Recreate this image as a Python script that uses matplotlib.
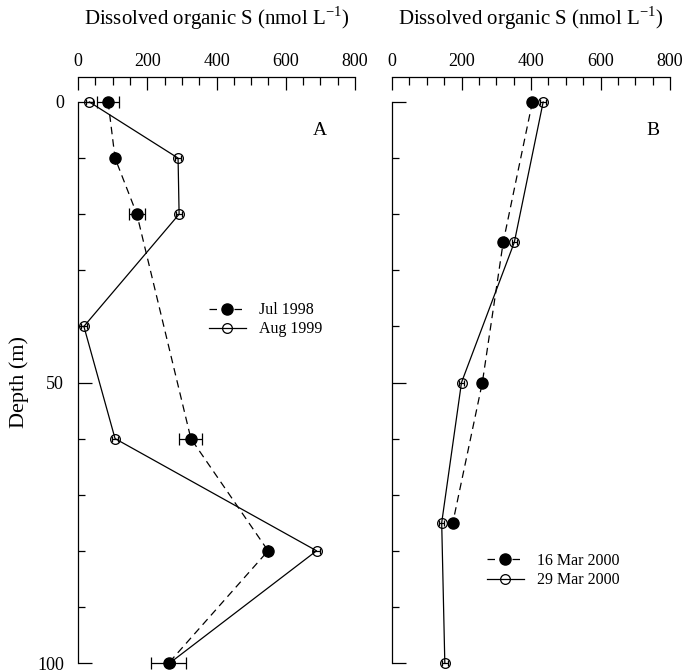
import matplotlib
matplotlib.use("Agg")
import matplotlib.pyplot as plt
from matplotlib.lines import Line2D
from matplotlib.ticker import MultipleLocator

plt.rcParams["font.family"] = ["Liberation Serif", "DejaVu Serif"]

# ---- Panel A: Jul 1998 / Aug 1999 profiles ----
depth_jul = [0, 10, 20, 60, 80, 100]
dos_jul = [87, 107, 170, 326, 549, 262]
err_jul = [32, 0, 24, 33, 0, 51]

depth_aug = [0, 10, 20, 40, 60, 80, 100]
dos_aug = [33, 289, 292, 17, 107, 689, 265]
err_aug = [10, 8, 8, 8, 8, 10, 8]

# ---- Panel B: March 2000 profiles ----
depth_mar16 = [0, 25, 50, 75]
dos_mar16 = [404, 320, 260, 175]

depth_mar29 = [0, 25, 50, 75, 100]
dos_mar29 = [435, 352, 200, 143, 152]
err_mar29 = [8, 8, 8, 8, 8]

W, H = 684, 672
fig = plt.figure(figsize=(W / 100, H / 100), dpi=100)
axA = fig.add_axes([78 / W, (H - 663) / H, 277 / W, 561 / H])
axB = fig.add_axes([392 / W, (H - 663) / H, 278 / W, 561 / H])

lw = 0.9
dash = (0, (6, 4))
filled = dict(color="black", ls=dash, lw=lw, marker="o", ms=8,
              mfc="black", mec="black")
hollow = dict(color="black", ls="-", lw=lw, marker="o", ms=7,
              mfc="none", mec="black", mew=lw)

for ax in (axA, axB):
    ax.set_xlim(0, 800)
    ax.set_ylim(100, 0)
    ax.spines["right"].set_visible(False)
    ax.spines["bottom"].set_visible(False)
    ax.spines["top"].set_position(("outward", 18))
    ax.spines["top"].set_linewidth(lw)
    ax.spines["left"].set_linewidth(lw)
    ax.xaxis.tick_top()
    ax.xaxis.set_label_position("top")
    ax.xaxis.set_major_locator(MultipleLocator(200))
    ax.xaxis.set_minor_locator(MultipleLocator(50))
    ax.yaxis.set_major_locator(MultipleLocator(50))
    ax.yaxis.set_minor_locator(MultipleLocator(10))
    ax.tick_params(axis="x", which="major", direction="in", length=9, width=lw,
                   labelsize=13, pad=5)
    ax.tick_params(axis="x", which="minor", direction="in", length=6, width=lw)
    ax.tick_params(axis="y", which="major", direction="in", length=10, width=lw,
                   labelsize=13, pad=10)
    ax.tick_params(axis="y", which="minor", direction="in", length=5, width=lw)
    ax.set_xlabel("Dissolved organic S (nmol L$^{\\mathregular{-1}}$)",
                  fontsize=15, labelpad=20)

axB.tick_params(axis="y", which="both", labelleft=False)
axA.set_ylabel("Depth (m)", fontsize=16, labelpad=6)

axA.errorbar(dos_jul, depth_jul, xerr=err_jul, ecolor="black", elinewidth=lw,
             capsize=4, capthick=lw, clip_on=False, **filled)
axA.errorbar(dos_aug, depth_aug, xerr=err_aug, ecolor="black", elinewidth=lw,
             capsize=2.5, capthick=lw, clip_on=False, **hollow)

axB.plot(dos_mar16, depth_mar16, clip_on=False, **filled)
axB.errorbar(dos_mar29, depth_mar29, xerr=err_mar29, ecolor="black", elinewidth=lw,
             capsize=2.5, capthick=lw, clip_on=False, **hollow)

leg_kw = dict(frameon=False, fontsize=11.5, handlelength=2.3, handletextpad=0.8,
              borderpad=0, borderaxespad=0, labelspacing=0.2, loc="upper left")
axA.legend([Line2D([], [], **filled), Line2D([], [], **hollow)],
           ["Jul 1998", "Aug 1999"], bbox_to_anchor=(0.473, 0.643), **leg_kw)
axB.legend([Line2D([], [], **filled), Line2D([], [], **hollow)],
           ["16 Mar 2000", "29 Mar 2000"], bbox_to_anchor=(0.342, 0.196), **leg_kw)

axA.text(0.874, 0.95, "A", transform=axA.transAxes, fontsize=14,
         ha="center", va="center")
axB.text(0.94, 0.95, "B", transform=axB.transAxes, fontsize=14,
         ha="center", va="center")

fig.savefig("out.png", dpi=100)
